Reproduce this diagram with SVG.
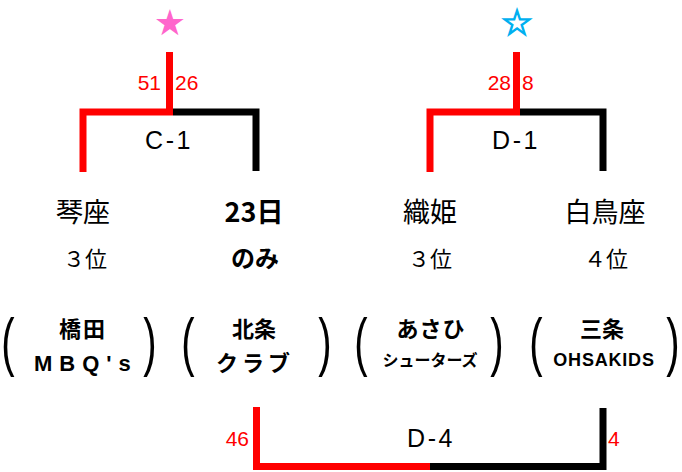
<svg xmlns="http://www.w3.org/2000/svg" width="682" height="472" viewBox="0 0 682 472">
<style>
.jp{font-family:"Noto Sans CJK JP","Noto Sans",sans-serif;fill:#000;text-anchor:middle}
.lat{font-family:"Liberation Sans",Arial,sans-serif;fill:#000}
.lbl{font-family:"Liberation Sans",Arial,sans-serif;fill:#000;font-size:25px;text-anchor:middle;letter-spacing:2.5px}
.star{font-family:"DejaVu Sans",sans-serif;font-size:36px;text-anchor:middle}
.score{font-family:"Liberation Sans",Arial,sans-serif;fill:#ff0000;font-size:21px}
.red{fill:none;stroke:#ff0000;stroke-width:7;stroke-linejoin:miter}
.blk{fill:none;stroke:#000;stroke-width:7;stroke-linejoin:miter}
.par{font-family:"Liberation Sans",Arial,sans-serif;font-size:40px;fill:#000;text-anchor:middle}
.name{font-size:27px}
.rank{font-size:22px}
.team{font-size:22px;font-weight:bold}
</style>
<rect width="682" height="472" fill="#fff"/>
<g id="connectors">
  <path class="blk" d="M173,112 H256 V171"/>
  <path class="red" d="M169.5,52 V112 H83 V172"/>
  <path class="blk" d="M520,112 H603 V171"/>
  <path class="red" d="M516.5,52 V112 H430 V172"/>
  <path class="blk" d="M430,466.5 H603 V408"/>
  <path class="red" d="M256.5,407 V466.5 H430"/>
</g>
<g id="match-c1">
  <text class="star" x="170" y="35" style="fill:#ff66cc">★</text>
  <text class="score" x="161" y="90" text-anchor="end">51</text>
  <text class="score" x="175" y="90">26</text>
  <text class="lbl" x="169" y="149">C-1</text>
</g>
<g id="match-d1">
  <text class="star" x="517" y="35" style="fill:#00b0f0;stroke:#00b0f0;stroke-width:1.3">☆</text>
  <text class="score" x="511" y="90" text-anchor="end">28</text>
  <text class="score" x="522" y="90">8</text>
  <text class="lbl" x="516" y="149">D-1</text>
</g>
<g id="match-d4">
  <text class="score" x="249" y="446" text-anchor="end">46</text>
  <text class="score" x="608" y="446">4</text>
  <text class="lbl" x="431" y="447">D-4</text>
</g>
<g id="node-kotoza">
  <text class="jp name" x="83" y="222">琴座</text>
  <text class="jp rank" x="85" y="267">３位</text>
  <text class="par" transform="translate(8,364) scale(1,1.62)">(</text>
  <text class="jp team" x="83" y="337" letter-spacing="2">橋田</text>
  <text class="lat" x="34" y="371" font-size="22" font-weight="bold" letter-spacing="7">MBQ's</text>
  <text class="par" transform="translate(150,364) scale(1,1.62)">)</text>
</g>
<g id="node-23">
  <text class="jp name" x="254" y="222" font-weight="bold">23日</text>
  <text class="jp" x="255" y="267" font-size="24" font-weight="bold">のみ</text>
  <text class="par" transform="translate(188,364) scale(1,1.62)">(</text>
  <text class="jp team" x="254" y="337">北条</text>
  <text class="jp team" x="255" y="371" letter-spacing="4">クラブ</text>
  <text class="par" transform="translate(325,364) scale(1,1.62)">)</text>
</g>
<g id="node-orihime">
  <text class="jp name" x="430" y="222">織姫</text>
  <text class="jp rank" x="430" y="267">３位</text>
  <text class="par" transform="translate(361,364) scale(1,1.62)">(</text>
  <text class="jp team" x="431" y="337" letter-spacing="1">あさひ</text>
  <text class="jp" x="430" y="366" font-size="16" font-weight="bold">シューターズ</text>
  <text class="par" transform="translate(497,364) scale(1,1.62)">)</text>
</g>
<g id="node-hakuchoza">
  <text class="jp name" x="605" y="222">白鳥座</text>
  <text class="jp rank" x="606" y="267">４位</text>
  <text class="par" transform="translate(536,364) scale(1,1.62)">(</text>
  <text class="jp team" x="602" y="337">三条</text>
  <text class="lat" x="604" y="366" font-size="18" font-weight="bold" text-anchor="middle" letter-spacing="0.8">OHSAKIDS</text>
  <text class="par" transform="translate(673,364) scale(1,1.62)">)</text>
</g>
</svg>
